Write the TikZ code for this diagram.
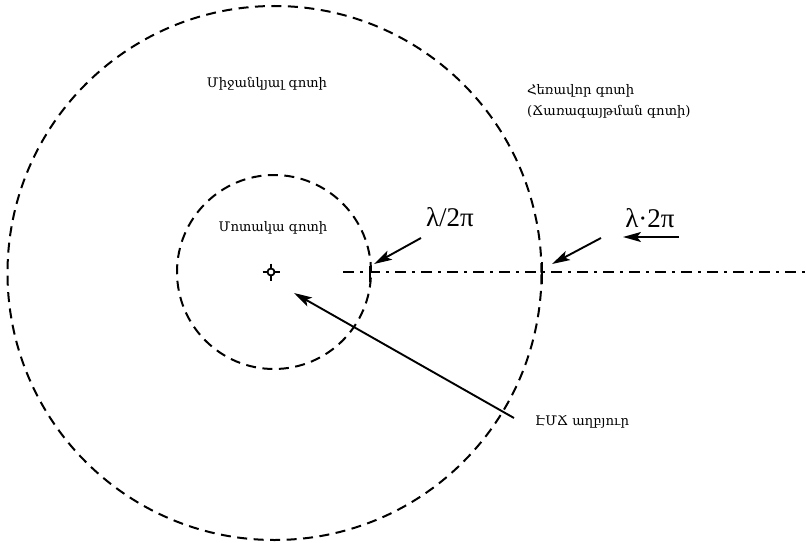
\documentclass[tikz,border=0pt]{standalone}
\usepackage{fontspec}
\setmainfont{DejaVu Serif}
\newfontfamily\grk{Liberation Serif}
\usetikzlibrary{arrows.meta}
\tikzset{
  zone/.style={draw, line width=2pt, dash pattern=on 10pt off 6.5pt, circle, inner sep=0pt},
  lbl/.style={font=\fontsize{13.2}{15}\selectfont, inner sep=0pt},
  glbl/.style={font=\grk\fontsize{27}{29}\selectfont, inner sep=0pt},
  pointer/.style={line width=1.9pt, -{Stealth[length=18pt, width=10pt, inset=4pt]}},
  axis/.style={line width=2pt, dash pattern=on 11pt off 6pt on 3pt off 6pt},
  tick/.style={line width=2pt}
}
\begin{document}
\begin{tikzpicture}[x=1pt, y=-1pt]
\useasboundingbox (0,0) rectangle (806,543);
% zones
\node[zone, minimum size=534pt] (far) at (274.5,273) {};
\node[zone, minimum size=194pt] (near) at (274,272) {};
% source symbol
\coordinate (src) at (271,272);
\node[draw, circle, line width=1.8pt, minimum size=7pt, inner sep=0pt] (srcc) at (src) {};
\draw[line width=1.8pt] (262.5,272) -- (267.5,272) (274.5,272) -- (279.5,272)
                        (271,263.5) -- (271,268.5) (271,275.5) -- (271,280.5);
% axis line
\coordinate (ax0) at (343,272);
\coordinate (ax1) at (806,272);
\draw[axis] (ax0) -- (ax1);
\coordinate (t1a) at (370,266); \coordinate (t1b) at (370,282);
\coordinate (t2a) at (542,262); \coordinate (t2b) at (542,284);
\draw[tick] (t1a) -- (t1b);
\draw[tick] (t2a) -- (t2b);
% arrows
\coordinate (a1t) at (421,238); \coordinate (a1h) at (374,264);
\draw[pointer] (a1t) -- (a1h);
\coordinate (a2t) at (601,238); \coordinate (a2h) at (552,264);
\draw[pointer] (a2t) -- (a2h);
\coordinate (a3t) at (679,237); \coordinate (a3h) at (623,237);
\draw[pointer] (a3t) -- (a3h);
\coordinate (a4t) at (514,418); \coordinate (a4h) at (294,293);
\draw[pointer] (a4t) -- (a4h);
% labels
\node[glbl] (l1) at (450,217) {λ/2π};
\node[glbl] (l2) at (650,218) {λ·2π};
\node[lbl] (mid) at (267,84) {Միջանկյալ գոտի};
\node[lbl, anchor=west] (farl) at (527,91) {Հեռավոր գոտի};
\node[lbl, anchor=west] (farl2) at (527,112) {(Ճառագայթման գոտի)};
\node[lbl] (nearl) at (273,228) {Մոտակա գոտի};
\node[lbl, anchor=west] (srcl) at (535,422) {ԷՄՃ աղբյուր};
\end{tikzpicture}
\end{document}
